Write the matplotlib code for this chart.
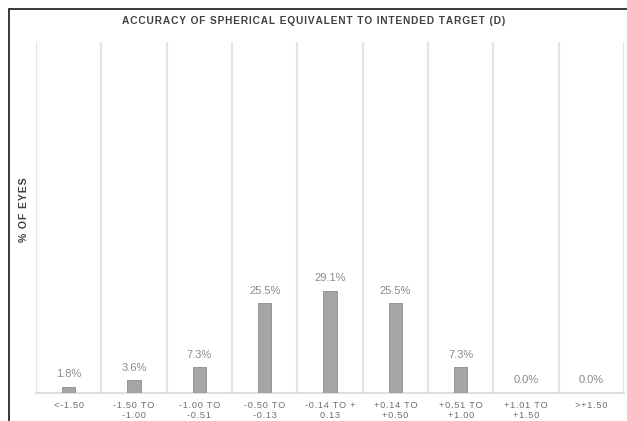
"""Bar chart: accuracy of spherical equivalent to intended target."""
import matplotlib
matplotlib.use("Agg")
import matplotlib.pyplot as plt
import numpy as np
from matplotlib.patches import Rectangle

categories = ["<-1.50", "-1.50 TO\n-1.00", "-1.00 TO\n-0.51", "-0.50 TO\n-0.13",
              "-0.14 TO +\n0.13", "+0.14 TO\n+0.50", "+0.51 TO\n+1.00",
              "+1.01 TO\n+1.50", ">+1.50"]
pct_eyes = [1.8, 3.6, 7.3, 25.5, 29.1, 25.5, 7.3, 0.0, 0.0]


def spaced(s):
    # rough letter-spacing with hair spaces
    return "\n".join("\u200a".join(line) for line in s.split("\n"))


W, H = 627, 421
plt.rcParams["font.family"] = ["Liberation Sans", "DejaVu Sans"]
fig = plt.figure(figsize=(W / 100, H / 100), dpi=100)

ax = fig.add_axes([36 / W, (H - 393) / H, (624 - 36) / W, (393 - 42) / H])
x = np.arange(len(categories))
ax.bar(x, pct_eyes, width=0.2, color="#a5a5a5", edgecolor="#8c8c8c", linewidth=0.6, zorder=3)

for xi, v in zip(x, pct_eyes):
    ax.text(xi, v + 2.2, f"{v:.1f}%", ha="center", va="bottom", fontsize=8, color="#8a8a8a")

ax.set_xlim(-0.5, len(categories) - 0.5)
ax.set_ylim(0, 100)
ax.set_xticks(x)
ax.set_xticklabels([spaced(c) for c in categories], fontsize=6.6, color="#6e6e6e",
                   linespacing=1.15)
ax.set_xticks(np.arange(-0.5, len(categories)), minor=True)
ax.tick_params(axis="x", which="both", length=0, pad=6)
ax.set_yticks([])
ax.grid(axis="x", which="minor", color="#e4e4e4", linewidth=1.6, zorder=0)
for side in ["top", "right", "left"]:
    ax.spines[side].set_visible(False)
ax.spines["bottom"].set_color("#d9d9d9")
ax.spines["bottom"].set_linewidth(1.2)

ax.set_ylabel(spaced("% OF EYES"), fontsize=7.6, fontweight="bold", color="#404040")
ax.yaxis.set_label_coords(-7 / (624 - 36), (393 - 210) / (393 - 42))

fig.text(314 / W, 1 - 21 / H, spaced("ACCURACY OF SPHERICAL EQUIVALENT TO INTENDED TARGET (D)"),
         ha="center", va="center", fontsize=7.3, fontweight="bold", color="#404040")

# outer chart frame (left and top edges visible)
fig.patches.append(Rectangle((8.5 / W, -0.1), 1.2, 1.1 - 9.5 / H, transform=fig.transFigure,
                             fill=False, edgecolor="#2a2a2a", linewidth=1.3))

fig.savefig("out.png", dpi=100)
